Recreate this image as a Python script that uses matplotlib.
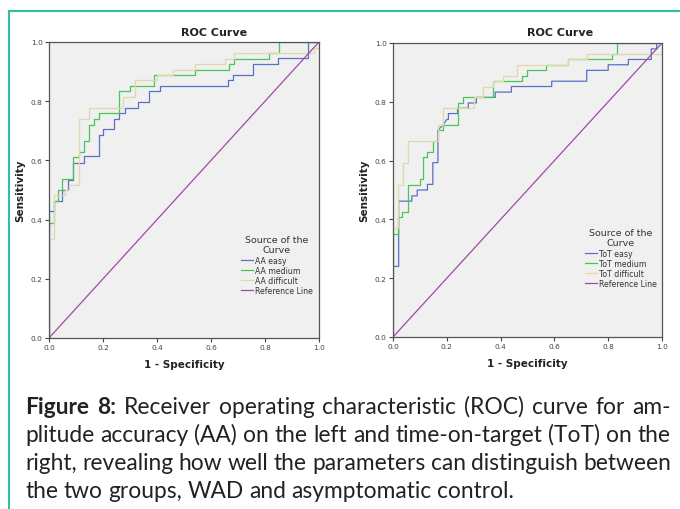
import matplotlib.pyplot as plt
from matplotlib.lines import Line2D

# ROC step points (1 - specificity, sensitivity)
aa_easy_x = [0, 0, 0.02, 0.02, 0.05, 0.05, 0.072, 0.072, 0.09, 0.09, 0.13, 0.13, 0.185, 0.185,
             0.2, 0.2, 0.24, 0.24, 0.26, 0.26, 0.28, 0.28, 0.33, 0.33, 0.37, 0.37, 0.41, 0.41,
             0.664, 0.664, 0.683, 0.683, 0.757, 0.757, 0.849, 0.849, 0.96, 0.96, 1.0]
aa_easy_y = [0, 0.428, 0.428, 0.462, 0.462, 0.5, 0.5, 0.535, 0.535, 0.592, 0.592, 0.614, 0.614, 0.685,
             0.685, 0.705, 0.705, 0.741, 0.741, 0.76, 0.76, 0.778, 0.778, 0.797, 0.797, 0.834, 0.834, 0.851,
             0.851, 0.87, 0.87, 0.889, 0.889, 0.927, 0.927, 0.946, 0.946, 1.0, 1.0]

aa_med_x = [0, 0, 0.02, 0.02, 0.035, 0.035, 0.05, 0.05, 0.09, 0.09, 0.11, 0.11, 0.13, 0.13, 0.148, 0.148,
            0.165, 0.165, 0.185, 0.185, 0.26, 0.26, 0.3, 0.3, 0.39, 0.39, 0.54, 0.54, 0.667, 0.667,
            0.685, 0.685, 0.815, 0.815, 0.85, 0.85, 1.0]
aa_med_y = [0, 0.39, 0.39, 0.462, 0.462, 0.5, 0.5, 0.536, 0.536, 0.61, 0.61, 0.63, 0.63, 0.667, 0.667, 0.72,
            0.72, 0.74, 0.74, 0.76, 0.76, 0.833, 0.833, 0.852, 0.852, 0.889, 0.889, 0.907, 0.907, 0.926,
            0.926, 0.944, 0.944, 0.963, 0.963, 1.0, 1.0]

aa_diff_x = [0, 0, 0.02, 0.02, 0.06, 0.06, 0.075, 0.075, 0.11, 0.11, 0.148, 0.148, 0.275, 0.275, 0.32, 0.32,
             0.4, 0.4, 0.46, 0.46, 0.54, 0.54, 0.65, 0.65, 0.685, 0.685, 0.98, 0.98, 1.0, 1.0]
aa_diff_y = [0, 0.333, 0.333, 0.482, 0.482, 0.5, 0.5, 0.518, 0.518, 0.74, 0.74, 0.778, 0.778, 0.815, 0.815, 0.87,
             0.87, 0.889, 0.889, 0.907, 0.907, 0.926, 0.926, 0.944, 0.944, 0.963, 0.963, 0.98, 0.98, 1.0]

tot_easy_x = [0, 0, 0.021, 0.021, 0.07, 0.07, 0.09, 0.09, 0.128, 0.128, 0.148, 0.148, 0.167, 0.167, 0.185,
              0.2, 0.206, 0.206, 0.24, 0.24, 0.28, 0.28, 0.31, 0.31, 0.38, 0.38, 0.44, 0.44, 0.59, 0.59,
              0.72, 0.72, 0.8, 0.8, 0.875, 0.875, 0.96, 0.96, 0.98, 0.98, 1.0]
tot_easy_y = [0, 0.24, 0.24, 0.462, 0.462, 0.48, 0.48, 0.5, 0.5, 0.519, 0.519, 0.593, 0.593, 0.704, 0.72,
              0.74, 0.74, 0.76, 0.76, 0.778, 0.778, 0.796, 0.796, 0.815, 0.815, 0.833, 0.833, 0.852, 0.852, 0.87,
              0.87, 0.907, 0.907, 0.926, 0.926, 0.944, 0.944, 0.98, 0.98, 1.0, 1.0]

tot_med_x = [0, 0, 0.02, 0.02, 0.033, 0.033, 0.056, 0.056, 0.1, 0.1, 0.111, 0.111, 0.128, 0.128, 0.148, 0.148,
             0.167, 0.167, 0.185, 0.185, 0.24, 0.24, 0.26, 0.26, 0.371, 0.371, 0.478, 0.478, 0.5, 0.5,
             0.57, 0.57, 0.651, 0.651, 0.815, 0.815, 0.833, 0.833, 1.0]
tot_med_y = [0, 0.352, 0.352, 0.407, 0.407, 0.426, 0.426, 0.518, 0.518, 0.537, 0.537, 0.611, 0.611, 0.63, 0.63, 0.667,
             0.667, 0.704, 0.704, 0.722, 0.722, 0.796, 0.796, 0.815, 0.815, 0.87, 0.87, 0.889, 0.889, 0.907,
             0.907, 0.926, 0.926, 0.944, 0.944, 0.963, 0.963, 1.0, 1.0]

tot_diff_x = [0, 0, 0.02, 0.02, 0.037, 0.037, 0.056, 0.056, 0.167, 0.167, 0.185, 0.185, 0.3, 0.3, 0.333, 0.333,
              0.37, 0.37, 0.41, 0.41, 0.46, 0.46, 0.65, 0.65, 0.72, 0.72, 1.0, 1.0]
tot_diff_y = [0, 0.37, 0.37, 0.518, 0.518, 0.593, 0.593, 0.667, 0.667, 0.722, 0.722, 0.778, 0.778, 0.815, 0.815, 0.852,
              0.852, 0.87, 0.87, 0.889, 0.889, 0.926, 0.926, 0.944, 0.944, 0.963, 0.963, 1.0]

ticks = [0.0, 0.2, 0.4, 0.6, 0.8, 1.0]
aa_labels = ['AA easy', 'AA medium', 'AA difficult', 'Reference Line']
tot_labels = ['ToT easy', 'ToT medium', 'ToT difficult', 'Reference Line']

caption = [
    "Figure 8: Receiver operating characteristic (ROC) curve for am-",
    "plitude accuracy (AA) on the left and time-on-target (ToT) on the",
    "right, revealing how well the parameters can distinguish between",
    "the two groups, WAD and asymptomatic control.",
]

BLUE = '#5b6fc9'
GREEN = '#46c655'
TAN = '#e0d8a8'
PURPLE = '#a04aa6'
TEAL = '#2ec0a0'

W, H = 680, 510
fig = plt.figure(figsize=(W / 100, H / 100), dpi=100)


def px(x, y):
    # pixel (from top-left) -> figure fraction
    return x / W, 1 - y / H


def roc_axes(rect, series, labels, leg_xy, title_x):
    l, t, r, b = rect
    ax = fig.add_axes([l / W, 1 - b / H, (r - l) / W, (b - t) / H])
    ax.set_facecolor('#f0f0f0')
    for (x, y), c in zip(series, [BLUE, GREEN, TAN]):
        ax.plot(x, y, color=c, lw=0.9)
    ax.plot([0, 1], [0, 1], color=PURPLE, lw=0.9)
    ax.set_xlim(0, 1)
    ax.set_ylim(0, 1)
    ax.set_xticks(ticks)
    ax.set_yticks(ticks)
    ax.set_xticklabels([f'{v:.1f}' for v in ticks])
    ax.set_yticklabels([f'{v:.1f}' for v in ticks])
    ax.tick_params(labelsize=5.3, colors='#444444', length=3, width=0.8, pad=1.5)
    for s in ax.spines.values():
        s.set_color('#555555')
        s.set_linewidth(0.9)
    ax.set_xlabel('1 - Specificity', fontsize=7.5, fontweight='bold', color='#222222', labelpad=6)
    ax.set_ylabel('Sensitivity', fontsize=7.5, fontweight='bold', color='#222222', labelpad=4)
    fig.text(*px(title_x, 33), 'ROC Curve', fontsize=8, fontweight='bold', color='#222222',
             ha='center', va='center')
    handles = [Line2D([], [], color=c, lw=0.9) for c in [BLUE, GREEN, TAN, PURPLE]]
    leg = ax.legend(handles, labels, title='Source of the\nCurve', frameon=False, fontsize=5.6,
                    title_fontsize=6.8, handlelength=1.6, handletextpad=0.3, labelspacing=0.15,
                    loc='upper center', bbox_to_anchor=px(*leg_xy), bbox_transform=fig.transFigure,
                    borderpad=0, borderaxespad=0, alignment='center')
    leg.get_title().set_color('#333333')
    leg.get_title().set_multialignment('center')
    for tx in leg.get_texts():
        tx.set_color('#333333')
    return ax


roc_axes((49, 43, 319, 339), [(aa_easy_x, aa_easy_y), (aa_med_x, aa_med_y), (aa_diff_x, aa_diff_y)],
         aa_labels, (277, 236), 214)
roc_axes((393, 44, 662, 338), [(tot_easy_x, tot_easy_y), (tot_med_x, tot_med_y), (tot_diff_x, tot_diff_y)],
         tot_labels, (621, 229), 560)

# teal frame on the left and top
fig.add_artist(Line2D([8.5 / W, 8.5 / W], [0, 1 - 12 / H], color=TEAL, lw=1.5))
fig.add_artist(Line2D([8.5 / W, 1], [1 - 12 / H, 1 - 12 / H], color=TEAL, lw=1.5))

# justified caption, placed word by word
renderer = fig.canvas.get_renderer()
x_left, x_right = 25, 671
natural_gap = 5.5


def make_words(i, line, size):
    out = []
    for j, w in enumerate(line.split(' ')):
        bold = i == 0 and j < 2
        out.append(fig.text(0, 0, w, family='Lato', fontsize=size, color='#222222',
                            va='baseline', fontweight='bold' if bold else 'normal'))
    return out


# pick the font size so that the naturally full third line just fits
probe = make_words(2, caption[2], 10)
probe_w = sum(t.get_window_extent(renderer).width for t in probe)
for t in probe:
    t.remove()
n_gaps = len(caption[2].split(' ')) - 1
size = 10 * (x_right - x_left - n_gaps * natural_gap) / probe_w

baselines = [414, 442, 470, 498]
for i, (line, base) in enumerate(zip(caption, baselines)):
    texts = make_words(i, line, size)
    widths = [t.get_window_extent(renderer).width for t in texts]
    if i < len(caption) - 1:
        gap = (x_right - x_left - sum(widths)) / (len(texts) - 1)
    else:
        gap = natural_gap
    x = x_left
    for t, wd in zip(texts, widths):
        t.set_position(px(x, base))
        x += wd + gap

fig.savefig('out.png', dpi=100)
